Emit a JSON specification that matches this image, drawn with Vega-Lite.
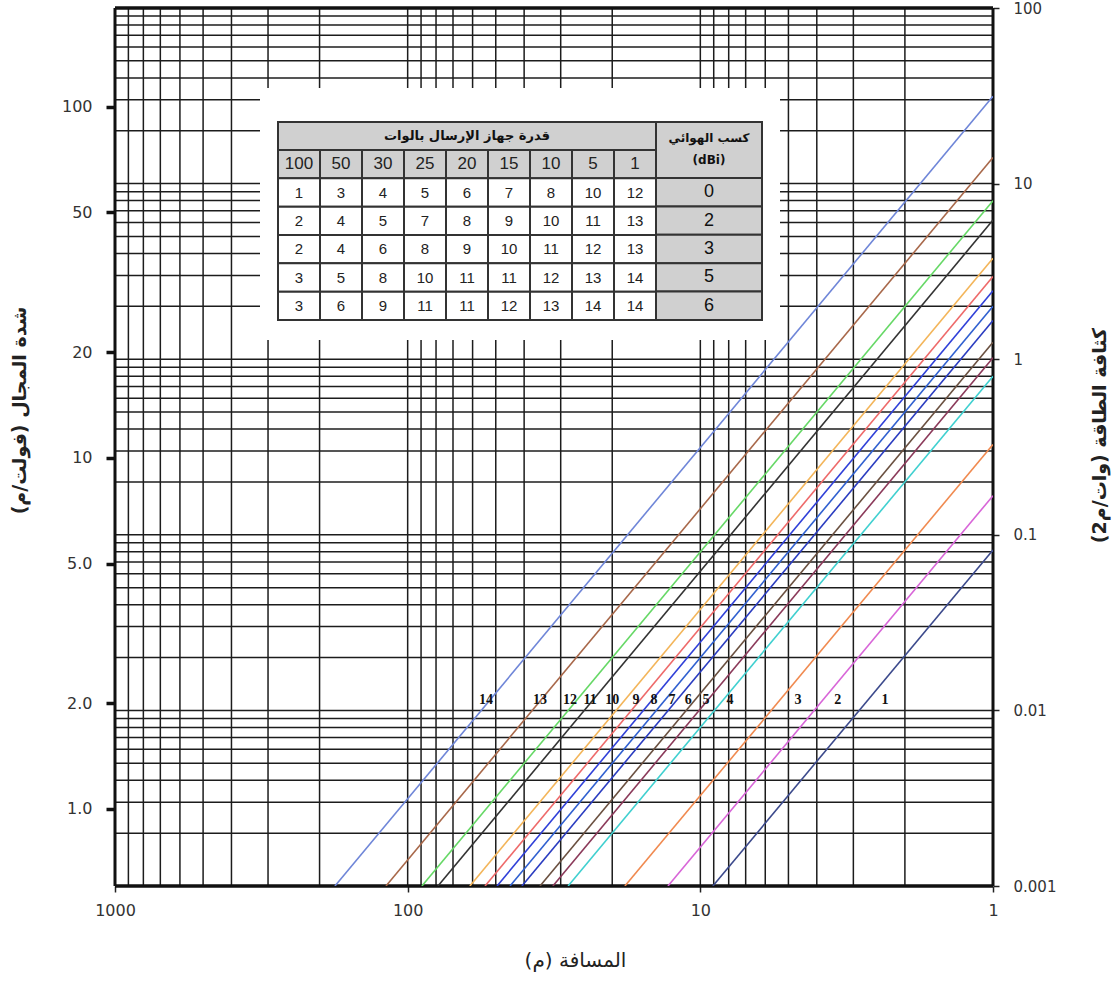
{
  "$schema": "https://vega.github.io/schema/vega-lite/v6.json",
  "width": 878,
  "height": 878,
  "autosize": "none",
  "padding": {"left": 115, "top": 8, "right": 123, "bottom": 102},
  "background": "white",
  "config": {"view": {"stroke": null}, "font": "DejaVu Sans"},
  "resolve": {"scale": {"x": "independent", "y": "independent", "color": "independent"}},
  "layer": [
    {
      "data": {"values": [
        {"d": 2}, {"d": 3}, {"d": 4}, {"d": 5}, {"d": 6}, {"d": 7}, {"d": 8}, {"d": 9}, {"d": 10},
        {"d": 20}, {"d": 30}, {"d": 40}, {"d": 50}, {"d": 60}, {"d": 70}, {"d": 80}, {"d": 90}, {"d": 100},
        {"d": 200}, {"d": 300}, {"d": 400}, {"d": 500}, {"d": 600}, {"d": 700}, {"d": 800}, {"d": 900}
      ]},
      "mark": {"type": "rule", "color": "#1c1c1c", "strokeWidth": 1.5},
      "encoding": {
        "x": {
          "field": "d", "type": "quantitative",
          "scale": {"type": "log", "domain": [1, 1000], "reverse": true, "nice": false},
          "axis": {
            "values": [1, 10, 100, 1000], "format": "d", "grid": false, "domain": false,
            "ticks": true, "tickSize": 6, "tickColor": "#222", "tickWidth": 1.5,
            "labelFont": "DejaVu Sans", "labelFontSize": 16, "labelColor": "#333", "labelPadding": 10,
            "labelFlush": false, "labelOverlap": false,
            "title": "المسافة (م)‏", "titleFont": "DejaVu Sans", "titleFontSize": 20,
            "titleFontWeight": "normal", "titleColor": "#222", "titlePadding": 32, "titleX": 460
          }
        }
      }
    },
    {
      "data": {"values": [
        {"S": 0.002}, {"S": 0.003}, {"S": 0.004}, {"S": 0.005}, {"S": 0.006}, {"S": 0.007}, {"S": 0.008}, {"S": 0.009}, {"S": 0.01},
        {"S": 0.02}, {"S": 0.03}, {"S": 0.04}, {"S": 0.05}, {"S": 0.06}, {"S": 0.07}, {"S": 0.08}, {"S": 0.09}, {"S": 0.1},
        {"S": 0.2}, {"S": 0.3}, {"S": 0.4}, {"S": 0.5}, {"S": 0.6}, {"S": 0.7}, {"S": 0.8}, {"S": 0.9}, {"S": 1},
        {"S": 2}, {"S": 3}, {"S": 4}, {"S": 5}, {"S": 6}, {"S": 7}, {"S": 8}, {"S": 9}, {"S": 10},
        {"S": 20}, {"S": 30}, {"S": 40}, {"S": 50}, {"S": 60}, {"S": 70}, {"S": 80}, {"S": 90}
      ]},
      "mark": {"type": "rule", "color": "#1c1c1c", "strokeWidth": 1.5},
      "encoding": {
        "y": {
          "field": "S", "type": "quantitative",
          "scale": {"type": "log", "domain": [0.001, 100], "nice": false},
          "axis": {
            "orient": "right", "values": [0.001, 0.01, 0.1, 1, 10, 100], "format": "~g",
            "grid": false, "domain": false, "ticks": true, "tickSize": 6, "tickColor": "#222", "tickWidth": 1.5,
            "labelFont": "DejaVu Sans", "labelFontSize": 15, "labelColor": "#333", "labelPadding": 14,
            "labelFlush": false, "labelOverlap": false,
            "title": "كثافة الطاقة (وات/م2)‏", "titleAngle": 270, "titleFont": "DejaVu Sans",
            "titleFontSize": 19, "titleFontWeight": "bold", "titleColor": "#222", "titlePadding": 54, "titleY": 427
          }
        }
      }
    },
    {
      "data": {"values": [{"d": 1}, {"d": 1000}]},
      "mark": {"type": "rule", "color": "#111", "strokeWidth": 3},
      "encoding": {
        "x": {"field": "d", "type": "quantitative", "scale": {"type": "log", "domain": [1, 1000], "reverse": true, "nice": false}, "axis": null}
      }
    },
    {
      "data": {"values": [{"S": 0.001}, {"S": 100}]},
      "mark": {"type": "rule", "color": "#111", "strokeWidth": 3.5},
      "encoding": {
        "y": {"field": "S", "type": "quantitative", "scale": {"type": "log", "domain": [0.001, 100], "nice": false}, "axis": null}
      }
    },
    {
      "data": {"values": [{"E": 1}]},
      "mark": {"type": "point", "opacity": 0},
      "encoding": {
        "y": {
          "field": "E", "type": "quantitative",
          "scale": {"type": "log", "domain": [0.6035, 190.9], "nice": false},
          "axis": {
            "orient": "left", "values": [1, 2, 5, 10, 20, 50, 100],
            "labelExpr": "datum.value < 10 ? format(datum.value, '.1f') : format(datum.value, 'd')",
            "grid": false, "domain": false, "ticks": true, "tickSize": 9, "tickWidth": 3.5, "tickColor": "#111",
            "labelFont": "DejaVu Sans", "labelFontSize": 16, "labelColor": "#333", "labelPadding": 14,
            "labelFlush": false, "labelOverlap": false,
            "title": "شدة المجال (فولت/م)‏", "titleFont": "DejaVu Sans", "titleFontSize": 19,
            "titleFontWeight": "bold", "titleColor": "#222", "titlePadding": 32, "titleY": 402
          }
        }
      }
    },
    {
      "data": {"values": [{"k": "box"}]},
      "mark": {"type": "rect", "fill": "white", "stroke": null},
      "encoding": {
        "x": {"field": "k", "type": "nominal", "scale": {"domain": ["box"], "range": [145, 665], "paddingInner": 0, "paddingOuter": 0}, "axis": null},
        "y": {"field": "k", "type": "nominal", "scale": {"domain": ["box"], "range": [80, 332], "paddingInner": 0, "paddingOuter": 0}, "axis": null}
      }
    },
    {
      "data": {"values": [{"k": "t", "label": "قدرة جهاز الإرسال بالوات"}]},
      "encoding": {
        "x": {"field": "k", "type": "nominal", "scale": {"domain": ["t"], "range": [163, 541], "paddingInner": 0, "paddingOuter": 0}, "axis": null},
        "y": {"field": "k", "type": "nominal", "scale": {"domain": ["t"], "range": [114, 142], "paddingInner": 0, "paddingOuter": 0}, "axis": null}
      },
      "layer": [
        {"mark": {"type": "rect", "fill": "#d0d0d0", "stroke": "#333", "strokeWidth": 2}},
        {"mark": {"type": "text", "font": "DejaVu Sans", "fontSize": 13, "fontWeight": "bold", "color": "#111"}, "encoding": {"text": {"field": "label"}}}
      ]
    },
    {
      "data": {"values": [
        {"c": "100", "r": "p", "v": "100"}, {"c": "50", "r": "p", "v": "50"}, {"c": "30", "r": "p", "v": "30"}, {"c": "25", "r": "p", "v": "25"}, {"c": "20", "r": "p", "v": "20"}, {"c": "15", "r": "p", "v": "15"}, {"c": "10", "r": "p", "v": "10"}, {"c": "5", "r": "p", "v": "5"}, {"c": "1", "r": "p", "v": "1"},
        {"c": "100", "r": "0", "v": "1"}, {"c": "50", "r": "0", "v": "3"}, {"c": "30", "r": "0", "v": "4"}, {"c": "25", "r": "0", "v": "5"}, {"c": "20", "r": "0", "v": "6"}, {"c": "15", "r": "0", "v": "7"}, {"c": "10", "r": "0", "v": "8"}, {"c": "5", "r": "0", "v": "10"}, {"c": "1", "r": "0", "v": "12"},
        {"c": "100", "r": "2", "v": "2"}, {"c": "50", "r": "2", "v": "4"}, {"c": "30", "r": "2", "v": "5"}, {"c": "25", "r": "2", "v": "7"}, {"c": "20", "r": "2", "v": "8"}, {"c": "15", "r": "2", "v": "9"}, {"c": "10", "r": "2", "v": "10"}, {"c": "5", "r": "2", "v": "11"}, {"c": "1", "r": "2", "v": "13"},
        {"c": "100", "r": "3", "v": "2"}, {"c": "50", "r": "3", "v": "4"}, {"c": "30", "r": "3", "v": "6"}, {"c": "25", "r": "3", "v": "8"}, {"c": "20", "r": "3", "v": "9"}, {"c": "15", "r": "3", "v": "10"}, {"c": "10", "r": "3", "v": "11"}, {"c": "5", "r": "3", "v": "12"}, {"c": "1", "r": "3", "v": "13"},
        {"c": "100", "r": "5", "v": "3"}, {"c": "50", "r": "5", "v": "5"}, {"c": "30", "r": "5", "v": "8"}, {"c": "25", "r": "5", "v": "10"}, {"c": "20", "r": "5", "v": "11"}, {"c": "15", "r": "5", "v": "11"}, {"c": "10", "r": "5", "v": "12"}, {"c": "5", "r": "5", "v": "13"}, {"c": "1", "r": "5", "v": "14"},
        {"c": "100", "r": "6", "v": "3"}, {"c": "50", "r": "6", "v": "6"}, {"c": "30", "r": "6", "v": "9"}, {"c": "25", "r": "6", "v": "11"}, {"c": "20", "r": "6", "v": "11"}, {"c": "15", "r": "6", "v": "12"}, {"c": "10", "r": "6", "v": "13"}, {"c": "5", "r": "6", "v": "14"}, {"c": "1", "r": "6", "v": "14"}
      ]},
      "encoding": {
        "x": {"field": "c", "type": "nominal", "scale": {"domain": ["100", "50", "30", "25", "20", "15", "10", "5", "1"], "range": [163, 541], "paddingInner": 0, "paddingOuter": 0}, "axis": null},
        "y": {"field": "r", "type": "nominal", "scale": {"domain": ["p", "0", "2", "3", "5", "6"], "range": [142, 312], "paddingInner": 0, "paddingOuter": 0}, "axis": null}
      },
      "layer": [
        {"mark": {"type": "rect", "stroke": "#333", "strokeWidth": 2}, "encoding": {"fill": {"condition": {"test": "datum.r === 'p'", "value": "#d0d0d0"}, "value": "white"}}},
        {"mark": {"type": "text", "font": "Liberation Sans", "fontSize": 15, "color": "#222"}, "encoding": {"text": {"field": "v"}, "size": {"condition": {"test": "datum.r === 'p'", "value": 17}, "value": 15}}}
      ]
    },
    {
      "data": {"values": [{"k": "g", "a": "كسب الهوائي", "b": "(dBi)"}]},
      "encoding": {
        "x": {"field": "k", "type": "nominal", "scale": {"domain": ["g"], "range": [541, 647], "paddingInner": 0, "paddingOuter": 0}, "axis": null},
        "y": {"field": "k", "type": "nominal", "scale": {"domain": ["g"], "range": [114, 170], "paddingInner": 0, "paddingOuter": 0}, "axis": null}
      },
      "layer": [
        {"mark": {"type": "rect", "fill": "#d0d0d0", "stroke": "#333", "strokeWidth": 2}},
        {"mark": {"type": "text", "font": "DejaVu Sans", "fontSize": 12, "fontWeight": "bold", "color": "#111", "dy": -12}, "encoding": {"text": {"field": "a"}}},
        {"mark": {"type": "text", "font": "DejaVu Sans", "fontSize": 12, "fontWeight": "bold", "color": "#111", "dy": 10}, "encoding": {"text": {"field": "b"}}}
      ]
    },
    {
      "data": {"values": [
        {"k": "g", "r": "0", "v": "0"}, {"k": "g", "r": "2", "v": "2"}, {"k": "g", "r": "3", "v": "3"}, {"k": "g", "r": "5", "v": "5"}, {"k": "g", "r": "6", "v": "6"}
      ]},
      "encoding": {
        "x": {"field": "k", "type": "nominal", "scale": {"domain": ["g"], "range": [541, 647], "paddingInner": 0, "paddingOuter": 0}, "axis": null},
        "y": {"field": "r", "type": "nominal", "scale": {"domain": ["0", "2", "3", "5", "6"], "range": [170, 312], "paddingInner": 0, "paddingOuter": 0}, "axis": null}
      },
      "layer": [
        {"mark": {"type": "rect", "fill": "#d0d0d0", "stroke": "#333", "strokeWidth": 2}},
        {"mark": {"type": "text", "font": "Liberation Sans", "fontSize": 18, "color": "#111"}, "encoding": {"text": {"field": "v"}}}
      ]
    },
    {
      "data": {"values": [
        {"id": "L1", "d": 9.06, "S": 0.001}, {"id": "L1", "d": 1, "S": 0.082},
        {"id": "L2", "d": 12.9, "S": 0.001}, {"id": "L2", "d": 1, "S": 0.167},
        {"id": "L3", "d": 18.1, "S": 0.001}, {"id": "L3", "d": 1, "S": 0.327},
        {"id": "L4", "d": 28.3, "S": 0.001}, {"id": "L4", "d": 1, "S": 0.80},
        {"id": "L5", "d": 31.9, "S": 0.001}, {"id": "L5", "d": 1, "S": 1.02},
        {"id": "L6", "d": 35.3, "S": 0.001}, {"id": "L6", "d": 1, "S": 1.25},
        {"id": "L7", "d": 40.7, "S": 0.001}, {"id": "L7", "d": 1, "S": 1.66},
        {"id": "L8", "d": 44.7, "S": 0.001}, {"id": "L8", "d": 1, "S": 2.0},
        {"id": "L9", "d": 49.5, "S": 0.001}, {"id": "L9", "d": 1, "S": 2.45},
        {"id": "L10", "d": 54.4, "S": 0.001}, {"id": "L10", "d": 1, "S": 2.96},
        {"id": "L11", "d": 61.3, "S": 0.001}, {"id": "L11", "d": 1, "S": 3.76},
        {"id": "L12", "d": 78.8, "S": 0.001}, {"id": "L12", "d": 1, "S": 6.2},
        {"id": "L13", "d": 89.4, "S": 0.001}, {"id": "L13", "d": 1, "S": 7.99},
        {"id": "L14", "d": 118.6, "S": 0.001}, {"id": "L14", "d": 1, "S": 14.07},
        {"id": "L15", "d": 177.2, "S": 0.001}, {"id": "L15", "d": 1, "S": 31.4}
      ]},
      "mark": {"type": "line", "strokeWidth": 1.6, "clip": true},
      "encoding": {
        "x": {"field": "d", "type": "quantitative", "scale": {"type": "log", "domain": [1, 1000], "reverse": true, "nice": false}, "axis": null},
        "y": {"field": "S", "type": "quantitative", "scale": {"type": "log", "domain": [0.001, 100], "nice": false}, "axis": null},
        "color": {
          "field": "id", "type": "nominal", "legend": null,
          "scale": {
            "domain": ["L1", "L2", "L3", "L4", "L5", "L6", "L7", "L8", "L9", "L10", "L11", "L12", "L13", "L14", "L15"],
            "range": ["#3c4a8c", "#d866d8", "#f08a50", "#40d0d0", "#8b3a5a", "#6a5040", "#2a3cc0", "#3060d0", "#3040d8", "#ee6a6a", "#f3b55a", "#333333", "#66d866", "#a8684a", "#6f86d8"]
          }
        }
      }
    },
    {
      "data": {"values": [
        {"n": "14", "d": 54.0, "S": 0.01145}, {"n": "13", "d": 35.3, "S": 0.01145}, {"n": "12", "d": 27.9, "S": 0.01145},
        {"n": "11", "d": 23.8, "S": 0.01145}, {"n": "10", "d": 20.0, "S": 0.01145}, {"n": "9", "d": 16.6, "S": 0.01145},
        {"n": "8", "d": 14.4, "S": 0.01145}, {"n": "7", "d": 12.5, "S": 0.01145}, {"n": "6", "d": 11.0, "S": 0.01145},
        {"n": "5", "d": 9.57, "S": 0.01145}, {"n": "4", "d": 7.92, "S": 0.01145}, {"n": "3", "d": 4.64, "S": 0.01145},
        {"n": "2", "d": 3.39, "S": 0.01145}, {"n": "1", "d": 2.34, "S": 0.01145}
      ]},
      "mark": {"type": "text", "font": "Liberation Serif", "fontWeight": "bold", "fontSize": 14, "color": "#111"},
      "encoding": {
        "x": {"field": "d", "type": "quantitative", "scale": {"type": "log", "domain": [1, 1000], "reverse": true, "nice": false}, "axis": null},
        "y": {"field": "S", "type": "quantitative", "scale": {"type": "log", "domain": [0.001, 100], "nice": false}, "axis": null},
        "text": {"field": "n"}
      }
    }
  ]
}
